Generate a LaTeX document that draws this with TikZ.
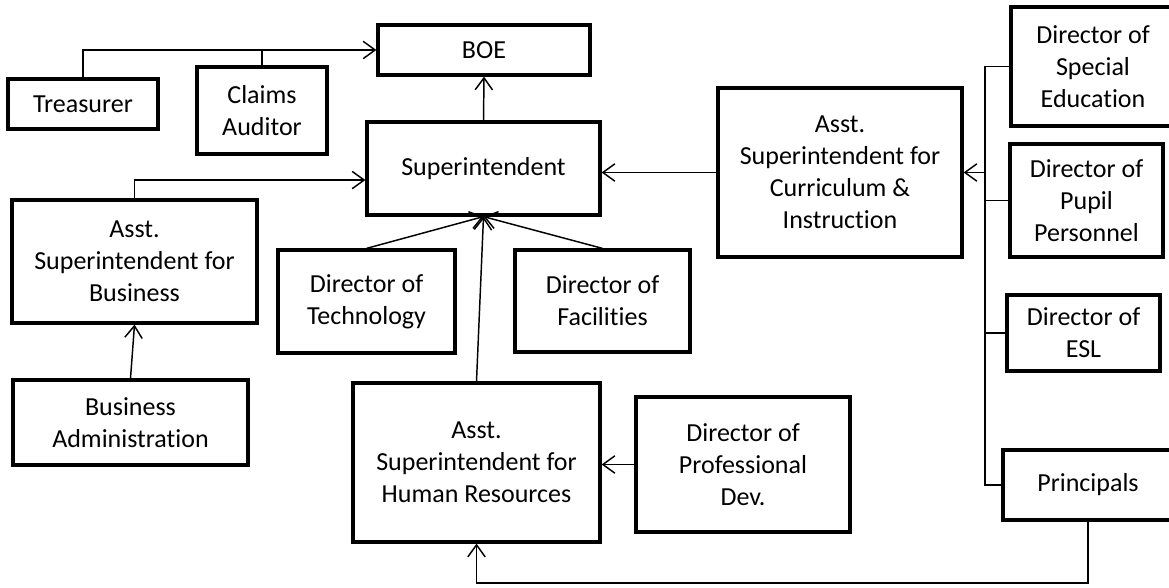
\documentclass[tikz,border=0pt]{standalone}
\usepackage{fontspec}
\setmainfont{Carlito}[Ligatures={NoCommon,NoContextual}]
\usetikzlibrary{arrows.meta,calc}
\begin{document}
\begin{tikzpicture}[x=0.75pt,y=-0.75pt,
  box/.style={draw=black,line width=2.4pt,rectangle,align=center,inner sep=2pt,
    font=\fontsize{19.5}{24}\selectfont},
  conn/.style={line width=1.1pt},
  arr/.style={conn,-{Straight Barb[length=9pt,width=13pt,line width=1.1pt]}}]
\useasboundingbox (0,0) rectangle (1169,588);
\node[box,minimum width=212*0.75pt,minimum height=50*0.75pt] (boe) at (484,50) {BOE};
\node[box,minimum width=233*0.75pt,minimum height=93*0.75pt] (sup) at (483.5,168.5) {Superintendent};
\node[box,minimum width=150*0.75pt,minimum height=50*0.75pt] (treas) at (83,104) {Treasurer};
\node[box,minimum width=130*0.75pt,minimum height=87*0.75pt] (claims) at (262,110.5) {Claims\\Auditor};
\node[box,minimum width=245*0.75pt,minimum height=123*0.75pt] (asb) at (134.5,261.5) {Asst.\\Superintendent for\\Business};
\node[box,minimum width=235*0.75pt,minimum height=85*0.75pt] (ba) at (130.5,422.5) {Business\\Administration};
\node[box,minimum width=177*0.75pt,minimum height=103*0.75pt] (tech) at (366.5,301.5) {Director of\\Technology};
\node[box,minimum width=175*0.75pt,minimum height=102*0.75pt] (fac) at (602.5,301) {Director of\\Facilities};
\node[box,minimum width=247*0.75pt,minimum height=159*0.75pt] (hr) at (476.5,462.5) {Asst.\\Superintendent for\\Human Resources};
\node[box,minimum width=214*0.75pt,minimum height=135*0.75pt] (pd) at (743,464.5) {Director of\\Professional\\Dev.};
\node[box,minimum width=244*0.75pt,minimum height=169*0.75pt] (ci) at (840,172.5) {Asst.\\Superintendent for\\Curriculum \&\\Instruction};
\node[box,minimum width=164*0.75pt,minimum height=119*0.75pt] (spec) at (1093,66.5) {Director of\\Special\\Education};
\node[box,minimum width=153*0.75pt,minimum height=113*0.75pt] (pupil) at (1086.5,200.5) {Director of\\Pupil\\Personnel};
\node[box,minimum width=153*0.75pt,minimum height=76*0.75pt] (esl) at (1083.5,333) {Director of\\ESL};
\node[box,minimum width=170*0.75pt,minimum height=70*0.75pt] (princ) at (1088,485) {Principals};
\coordinate (tr) at (985,0);
\coordinate (bl) at (0,583);
\coordinate (supin) at ($(sup.north west)!0.62!(sup.south west)$);
% connectors
\draw[arr] (treas.north) |- (boe.west);
\draw[conn] (claims.north) -- (claims.north |- boe.west);
\draw[arr] (sup.north) -- (boe.south);
\draw[arr] (asb.north) |- (supin);
\draw[arr] (ba.north) -- (asb.south);
\draw[arr] (tech.north) -- (sup.south);
\draw[arr] (fac.north) -- (sup.south);
\draw[arr] (hr.north) -- (sup.south);
\draw[arr] (ci.west) -- (ci.west -| sup.east);
\draw[arr] (pd.west) -- (pd.west -| hr.east);
\draw[conn] (spec.west) -| (tr |- princ.west) -- (princ.west);
\draw[conn] (pupil.west) -- (pupil.west -| tr);
\draw[conn] (esl.west) -- (esl.west -| tr);
\draw[arr] (tr |- ci.east) -- (ci.east);
\draw[arr] (princ.south) |- (hr.south |- bl) -- (hr.south);
\end{tikzpicture}
\end{document}
